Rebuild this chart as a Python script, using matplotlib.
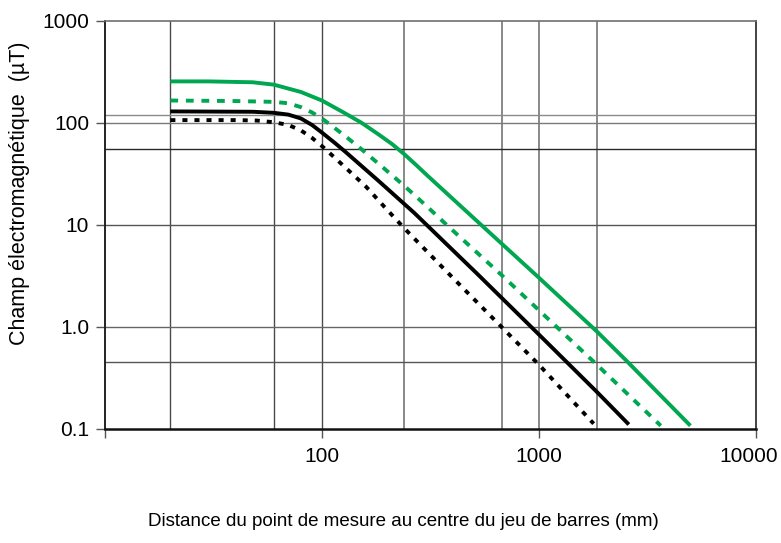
"""
Champ électromagnétique vs distance au jeu de barres
log-log chart, 4 curves
"""

import matplotlib
matplotlib.use('Agg')
import matplotlib.pyplot as plt
from matplotlib.transforms import ScaledTranslation

plt.rcParams['font.family'] = ['Liberation Sans', 'DejaVu Sans']

# DATA

# green solid
x_g1 = [20, 30, 48, 60, 80, 100, 125, 152, 182, 210, 240, 270, 308, 520, 980, 1850, 2520, 5000]
y_g1 = [254, 254, 249, 236, 200, 165, 127, 100, 77, 62, 49, 39, 30, 10.8, 3.15, 0.9, 0.47, 0.107]

# green dashed
x_g2 = [20, 40, 60, 70, 80, 90, 100, 115, 130, 152, 188, 240, 308, 379, 680, 1030, 1850, 3650]
y_g2 = [165, 163, 160, 155, 142, 126, 110, 88, 72, 55, 37.5, 24, 14.8, 9.8, 3.15, 1.37, 0.425, 0.107]

# black solid
x_k1 = [20, 48, 60, 70, 80, 90, 100, 115, 128, 182, 267, 520, 1000, 1850, 2600]
y_k1 = [129, 128, 125, 120, 110, 95, 80, 63, 52, 27, 13, 3.3, 0.84, 0.23, 0.11]

# black dashed
x_k2 = [20, 40, 50, 60, 70, 80, 90, 100, 115, 128, 160, 195, 240, 372, 1000, 1790]
y_k2 = [106, 106, 105, 101, 95, 84, 71, 59, 45, 36.5, 23.5, 14.8, 9.2, 3.55, 0.425, 0.112]

x_ticks = [10, 100, 1000, 10000]
x_ticklabels = ['', '100', '1000', '10000']
y_ticks = [0.1, 1, 10, 100, 1000]
y_ticklabels = ['0.1', '1.0', '10', '100', '1000']

# odd grid positions of the original drawing
x_grid_dark = [20, 60, 100]
x_grid_light = [240, 680, 1000, 1850]
y_grid = [120, 100, 55, 10, 1, 0.45]
y_grid_col = ['#8a8a8a', '#7a7a7a', '#2a2a2a', '#555555', '#666666', '#555555']

green = '#00a650'

# PLOT

fig = plt.figure(figsize=(7.81, 5.43), dpi=100)
ax = fig.add_axes([0.1345, 0.2105, 0.8331, 0.7514])
ax.set_xscale('log')
ax.set_yscale('log')
ax.set_xlim(10, 10000)
ax.set_ylim(0.1, 1000)

for xv in x_grid_dark:
    ax.axvline(xv, color='#4a4a4a', lw=1.0, zorder=1)
for xv in x_grid_light:
    ax.axvline(xv, color='#808080', lw=1.3, zorder=1)
for yv, c in zip(y_grid, y_grid_col):
    ax.axhline(yv, color=c, lw=1.0, zorder=1)

lw = 2.8
ax.plot(x_g1, y_g1, color=green, lw=lw, solid_capstyle='butt',
        solid_joinstyle='round', zorder=3)
ax.plot(x_g2, y_g2, color=green, lw=lw, linestyle=(0, (2.0, 2.0)), zorder=3)
ax.plot(x_k1, y_k1, color='black', lw=lw, solid_capstyle='butt',
        solid_joinstyle='round', zorder=3)
ax.plot(x_k2, y_k2, color='black', lw=lw, linestyle=(0, (1.3, 1.8)), zorder=3)

ax.set_xticks(x_ticks)
ax.set_xticklabels(x_ticklabels)
ax.set_yticks(y_ticks)
ax.set_yticklabels(y_ticklabels)
ax.minorticks_off()
ax.tick_params(axis='both', labelsize=15, length=6.5, width=1,
               color='#555555', pad=5)
ax.tick_params(axis='x', pad=7)

# the last x label sits a bit left of its tick so it stays inside the picture
last = ax.get_xticklabels()[-1]
last.set_transform(last.get_transform()
                   + ScaledTranslation(-7 / 100, 0, fig.dpi_scale_trans))

ax.spines['top'].set_color('#707070')
ax.spines['top'].set_linewidth(1.2)
ax.spines['right'].set_color('#222222')
ax.spines['right'].set_linewidth(1.2)
ax.spines['left'].set_color('#222222')
ax.spines['left'].set_linewidth(1.4)
ax.spines['bottom'].set_color('#111111')
ax.spines['bottom'].set_linewidth(1.8)

fig.text(403 / 781, 1 - 521.7 / 543,
         'Distance du point de mesure au centre du jeu de barres (mm)',
         ha='center', va='center', fontsize=13.5)
fig.text(20 / 781, 1 - 193 / 543, 'Champ électromagnétique  (µT)',
         ha='center', va='center', rotation=90, fontsize=15.5)

plt.savefig('out.png', dpi=100)
plt.close()
